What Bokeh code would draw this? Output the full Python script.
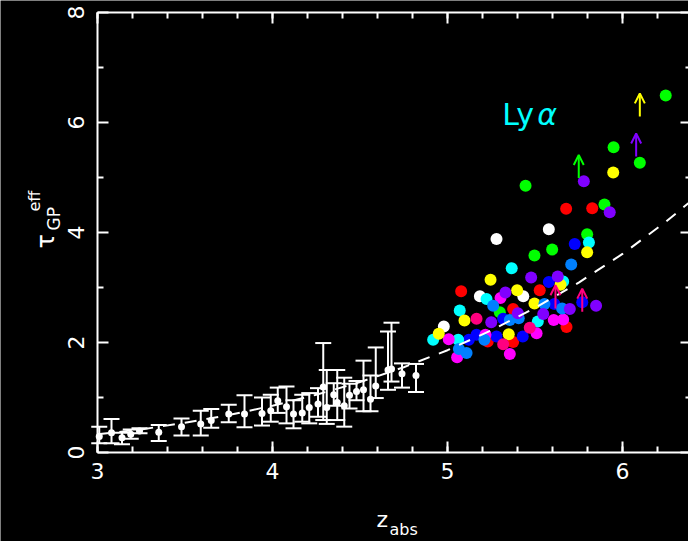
import math
import numpy as np
from bokeh.plotting import figure
from bokeh.models import (ColumnDataSource, Whisker, TeeHead, Arrow, OpenHead, Label,
                          LinearAxis, FixedTicker, Range1d, CustomJSTickFormatter)
from bokeh.embed import file_html
from bokeh.resources import INLINE

# ---- binned low-redshift measurements (white points with error bars) ----
bin_z = [3.01, 3.08, 3.14, 3.19, 3.24, 3.35, 3.48, 3.59, 3.65, 3.75, 3.84, 3.94,
         3.99, 4.03, 4.08, 4.12, 4.17, 4.21, 4.26, 4.29, 4.31, 4.35, 4.37, 4.41,
         4.44, 4.48, 4.52, 4.56, 4.59, 4.66, 4.68, 4.74, 4.82]
bin_tau = [0.29, 0.36, 0.27, 0.33, 0.39, 0.37, 0.47, 0.52, 0.58, 0.70, 0.70, 0.71,
           0.76, 0.94, 0.83, 0.70, 0.72, 0.82, 0.88, 1.19, 0.82, 1.05, 0.91, 0.85,
           1.04, 1.11, 1.14, 0.97, 1.21, 1.50, 1.52, 1.43, 1.40]
bin_lo = [0.17, 0.17, 0.15, 0.25, 0.35, 0.21, 0.31, 0.31, 0.45, 0.55, 0.46, 0.49,
          0.56, 0.72, 0.53, 0.44, 0.56, 0.53, 0.65, 0.59, 0.52, 0.85, 0.59, 0.47,
          0.80, 0.95, 0.75, 0.75, 0.99, 1.14, 1.29, 1.18, 1.10]
bin_hi = [0.47, 0.61, 0.36, 0.42, 0.44, 0.50, 0.62, 0.76, 0.79, 0.87, 1.04, 1.00,
          1.05, 1.18, 1.20, 0.95, 1.05, 1.08, 1.17, 1.99, 1.50, 1.26, 1.50, 1.36,
          1.25, 1.30, 1.67, 1.40, 1.91, 2.20, 2.36, 1.62, 1.61]

# ---- individual high-redshift quasar sight lines, one id per quasar ----
qso_z = [
    5.280, 5.185, 5.433, 4.979, 5.579,                                   # 0
    5.078, 5.527, 5.375, 5.230, 5.375, 5.678, 5.827, 5.680,              # 1
    5.497, 5.299, 6.247, 5.949, 6.099, 5.446, 5.897, 5.798, 5.598, 5.650,  # 2
    5.579, 5.318, 5.122, 5.166, 5.280, 5.430, 5.727, 5.770, 5.611,       # 3
    5.367, 5.223, 5.070, 5.516, 4.918, 5.061, 5.808, 5.661,              # 4
    5.303, 5.007, 5.217, 5.509, 5.055, 5.356, 5.607, 5.661,              # 5
    5.246, 5.398, 5.497, 5.097, 4.950, 5.350, 5.947, 5.798, 5.646,       # 6
    5.261, 5.554, 5.356, 5.407, 5.211, 5.065, 5.109, 5.707, 5.655,       # 7
    5.478, 5.331, 5.402, 5.547, 5.250, 5.779, 5.927, 5.630, 5.699, 5.849,  # 8
    5.166, 5.470, 5.318,                                                 # 9
]
qso_tau = [
    3.88, 2.84, 2.84, 2.29, 4.06,
    2.93, 2.95, 2.61, 2.02, 2.01, 4.43, 4.44, 2.28,
    3.58, 2.55, 6.49, 5.55, 5.27, 4.85, 4.51, 3.97, 3.69, 3.12,
    3.10, 2.43, 2.05, 2.14, 2.11, 2.11, 3.79, 2.73, 2.70,
    3.35, 2.79, 2.58, 2.38, 2.05, 2.05, 3.82, 3.11,
    2.81, 2.06, 2.14, 2.17, 1.73, 1.79, 2.41, 2.42,
    3.14, 2.95, 2.71, 2.40, 2.16, 2.15, 5.09, 3.64, 3.05,
    2.67, 2.70, 2.41, 2.44, 2.05, 1.88, 1.81, 3.42, 2.62,
    3.18, 2.91, 2.53, 2.52, 2.37, 4.93, 4.37, 3.20, 2.61, 2.67,
    2.43, 2.27, 1.97,
]
qso_id = ([0] * 5 + [1] * 8 + [2] * 10 + [3] * 9 + [4] * 8 + [5] * 8 +
          [6] * 9 + [7] * 9 + [8] * 10 + [9] * 3)

# ---- lower limits (arrows) ----
lim_z = [5.750, 6.099, 6.078, 5.617, 5.770]
lim_tau = [4.99, 6.11, 5.38, 2.62, 2.56]
lim_id = [2, 6, 8, 9, 9]

# ---- power-law evolution curve ----
fit_z = [3.0, 3.25, 3.5, 3.75, 4.0, 4.25, 4.5, 4.75, 5.0, 5.25, 5.5, 5.75, 6.0, 6.25, 6.5]
fit_tau = [0.33, 0.42, 0.54, 0.68, 0.85, 1.05, 1.28, 1.55, 1.86, 2.22, 2.63, 3.09, 3.61, 4.20, 4.86]

# ---- axis layout ----
X_MIN, X_MAX = 3.0, 6.394   # box edges in z
Y_MIN, Y_MAX = 0.0, 8.0     # box edges in tau
x_major = [3, 4, 5, 6]
x_minor = [round(v, 1) for v in np.arange(3.0, 6.41, 0.2)]
y_major = [0, 2, 4, 6, 8]
y_minor = [1, 3, 5, 7]

# ---- styling ----
PALETTE = ["#FFFFFF", "#FF0000", "#00FF00", "#0000FF", "#00FFFF",
           "#FF00FF", "#FFFF00", "#0080FF", "#8000FF", "#FF0080"]
FONT = "DejaVu Sans"
ARROW_LEN = 0.42
W, H = 688, 541
PX_X, PX_Y = 175.0, 55.0        # pixels per unit z / tau
LEFT_PAD, TOP_PAD = 97, 12      # room for tick labels and titles

# the plotting frame fills the whole canvas; the box axes are pinned inside it
x0 = X_MIN - LEFT_PAD / PX_X
x1 = x0 + W / PX_X
y1 = Y_MAX + TOP_PAD / PX_Y
y0 = y1 - H / PX_Y

p = figure(width=W, height=H, output_backend="svg", toolbar_location=None,
           x_range=Range1d(x0, x1), y_range=Range1d(y0, y1),
           x_axis_type=None, y_axis_type=None,
           min_border=0, min_border_left=0, min_border_right=0,
           min_border_top=0, min_border_bottom=0,
           background_fill_color="black", border_fill_color="black",
           outline_line_color=None)
p.xgrid.visible = False
p.ygrid.visible = False


def style_axis(ax, labels=True, line=True):
    ax.axis_line_color = "white" if line else None
    ax.axis_line_width = 2
    ax.major_tick_line_color = "white"
    ax.minor_tick_line_color = "white"
    ax.major_tick_line_width = 2
    ax.minor_tick_line_width = 2
    ax.major_tick_in = 11
    ax.major_tick_out = 0
    ax.minor_tick_in = 6
    ax.minor_tick_out = 0
    ax.major_label_text_color = "white"
    ax.major_label_text_font = FONT
    ax.major_label_text_font_size = "22px"
    if not labels:
        ax.formatter = CustomJSTickFormatter(code="return ''")
        ax.major_label_text_font_size = "0px"
        ax.major_label_standoff = 0


bottom = LinearAxis(ticker=FixedTicker(ticks=x_major, minor_ticks=x_minor),
                    fixed_location=Y_MIN, bounds=(X_MIN, X_MAX))
style_axis(bottom)
bottom.major_label_standoff = 10
p.add_layout(bottom, "below")

top = LinearAxis(ticker=FixedTicker(ticks=x_major, minor_ticks=x_minor),
                 fixed_location=Y_MAX, bounds=(X_MIN, X_MAX))
style_axis(top, labels=False)
p.add_layout(top, "above")

left = LinearAxis(ticker=FixedTicker(ticks=y_major, minor_ticks=y_minor),
                  fixed_location=X_MIN, bounds=(Y_MIN, Y_MAX))
style_axis(left)
left.major_label_orientation = "vertical"
left.major_label_standoff = 14
p.add_layout(left, "left")

right = LinearAxis(ticker=FixedTicker(ticks=y_major, minor_ticks=y_minor),
                   fixed_location=X_MAX, bounds=(Y_MIN, Y_MAX))
style_axis(right, labels=False)
p.add_layout(right, "right")

# binned measurements with error bars
bins = ColumnDataSource(dict(z=bin_z, tau=bin_tau, lo=bin_lo, hi=bin_hi))
p.add_layout(Whisker(source=bins, base="z", lower="lo", upper="hi", dimension="height",
                     line_color="white", line_width=2,
                     lower_head=TeeHead(size=16, line_color="white", line_width=2),
                     upper_head=TeeHead(size=16, line_color="white", line_width=2)))
p.scatter("z", "tau", source=bins, size=7, marker="circle",
          fill_color="white", line_color=None)

# individual sight lines
qso = ColumnDataSource(dict(z=qso_z, tau=qso_tau,
                            color=[PALETTE[i] for i in qso_id]))
p.scatter("z", "tau", source=qso, size=12, marker="circle",
          fill_color="color", line_color=None)

# lower limits
for z, t, i in zip(lim_z, lim_tau, lim_id):
    c = PALETTE[i]
    p.add_layout(Arrow(x_start=z, y_start=t, x_end=z, y_end=t + ARROW_LEN,
                       line_color=c, line_width=2,
                       end=OpenHead(size=10, line_color=c, line_width=2)))

# evolution curve
p.line(fit_z, fit_tau, line_color="white", line_width=2, line_dash="12 10")

# transition label
p.add_layout(Label(x=5.313, y=6.15, text="Ly", text_color="#00FFFF",
                   text_font=FONT, text_font_size="30px",
                   text_align="left", text_baseline="alphabetic"))
p.add_layout(Label(x=5.313, y=6.15, x_offset=35, text="α", text_color="#00FFFF",
                   text_font=FONT, text_font_size="30px", text_font_style="italic",
                   text_align="left", text_baseline="alphabetic"))


# axis titles with sub/superscripts, placed in canvas pixels (origin bottom-left)
def title_piece(text, sx, sy, size, angle=0.0):
    p.add_layout(Label(x=sx, y=sy, x_units="screen", y_units="screen", text=text,
                       angle=angle, text_color="white", text_font=FONT,
                       text_font_size=size, text_align="left",
                       text_baseline="alphabetic"))


title_piece("z", 376, H - 519, "22px")
title_piece("abs", 389, H - 529, "16px")
title_piece("τ", 45, H - 248, "24px", math.pi / 2)
title_piece("GP", 53, H - 230, "17px", math.pi / 2)
title_piece("eff", 34, H - 211, "16px", math.pi / 2)

open("out.html", "w").write(file_html(p, INLINE))
